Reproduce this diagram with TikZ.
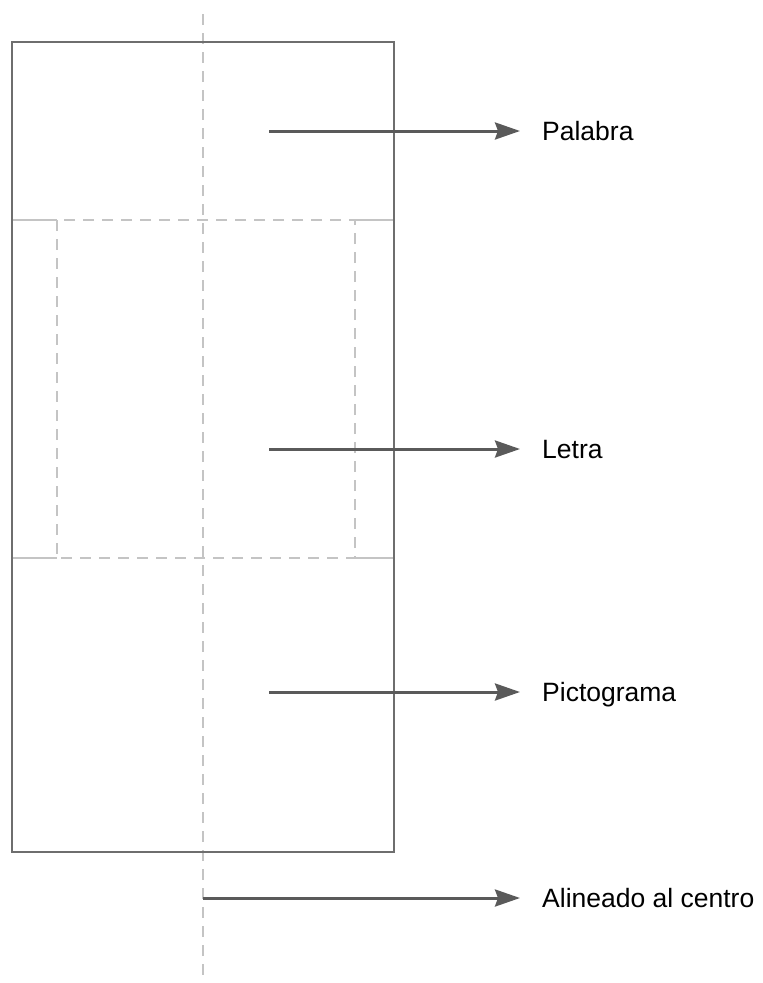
\documentclass[tikz,border=0pt]{standalone}
\usepackage{fontspec}
\setmainfont{Liberation Sans}
\usetikzlibrary{arrows.meta}
\definecolor{frame}{HTML}{6E6E6E}
\definecolor{guide}{HTML}{C4C4C4}
\definecolor{pointer}{HTML}{5A5A5A}
\tikzset{
  outline/.style={draw=frame, line width=1.6pt},
  divider/.style={draw=guide, line width=1.2pt},
  guideline/.style={draw=guide, line width=1.4pt, dash pattern=on 11pt off 8pt},
  pointerarrow/.style={draw=pointer, line width=3pt,
    -{Stealth[inset=3pt, length=25pt, width=17pt]}},
  caption/.style={anchor=west, inner sep=0pt, text height=19pt, text depth=0pt,
    font=\fontsize{26.5}{30}\selectfont, text=black}
}
\begin{document}
\begin{tikzpicture}[x=1pt, y=-1pt]
  \useasboundingbox (0,0) rectangle (763,983);

  % corner points of the page frame and of the letter area
  \coordinate (tl) at (12,42);
  \coordinate (br) at (394,852);
  \coordinate (ul) at (12,220);
  \coordinate (ur) at (394,220);
  \coordinate (ll) at (12,558);
  \coordinate (lr) at (394,558);
  \coordinate (itl) at (57,220);
  \coordinate (itr) at (355,220);
  \coordinate (ibl) at (57,558);
  \coordinate (ibr) at (355,558);

  % solid ends of the letter band
  \path[divider] (ul) -- (itl) (itr) -- (ur);
  \path[divider] (ll) -- (ibl) (ibr) -- (lr);

  % dashed letter area
  \path[guideline] (itl) rectangle (ibr);

  % centre guide
  \coordinate (ctop) at (203,14);
  \coordinate (cbot) at (203,983);
  \path[guideline] (ctop) -- (cbot);

  % page frame
  \path[outline] (tl) rectangle (br);

  % labels
  \node[caption] (palabra) at (542,131) {Palabra};
  \node[caption] (letra) at (542,449) {Letra};
  \node[caption] (picto) at (542,692) {Pictograma};
  \node[caption] (centro) at (542,898) {Alineado al centro};

  % arrow origins
  \coordinate (a1) at (269,131);
  \coordinate (a2) at (269,449);
  \coordinate (a3) at (269,692);
  \coordinate (a4) at (203,898);

  \draw[pointerarrow] (a1) -- ([xshift=-22pt]palabra.west);
  \draw[pointerarrow] (a2) -- ([xshift=-22pt]letra.west);
  \draw[pointerarrow] (a3) -- ([xshift=-22pt]picto.west);
  \draw[pointerarrow] (a4) -- ([xshift=-22pt]centro.west);
\end{tikzpicture}
\end{document}
